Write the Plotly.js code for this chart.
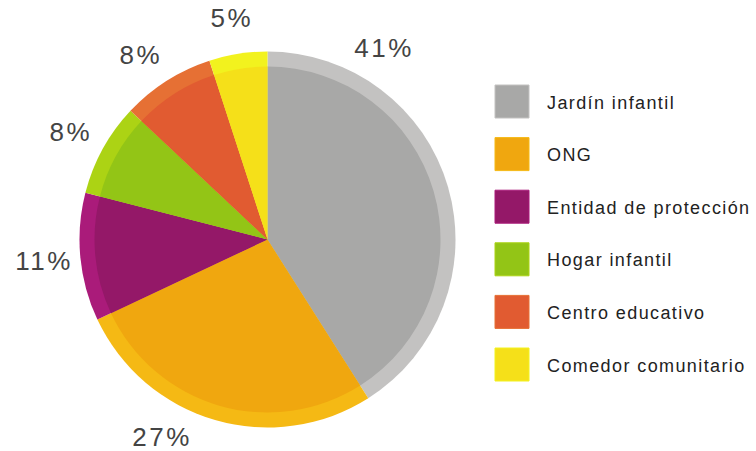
<!DOCTYPE html>
<html>
<head>
<meta charset="utf-8">
<script src="https://cdn.plot.ly/plotly-3.0.1.min.js"></script>
<style>
html,body{margin:0;padding:0;background:#fff;}
#chart{width:756px;height:451px;}
#chart text.annotation-text[style*="26px"]{letter-spacing:2.5px;}
#chart text.annotation-text[style*="18px"]{letter-spacing:1.4px;}
</style>
</head>
<body>
<div id="chart"></div>
<script>
// ---- data ----
const categories = ["Jardín infantil", "ONG", "Entidad de protección", "Hogar infantil", "Centro educativo", "Comedor comunitario"];
const values = [41, 27, 11, 8, 8, 5];
const percentLabels = ["41%", "27%", "11%", "8%", "8%", "5%"];
const innerColors = ["#a8a8a7", "#f0a70f", "#941868", "#93c516", "#e15b31", "#f5e019"];
const outerColors = ["#c3c2c1", "#f5b914", "#aa1b7a", "#acd314", "#e67034", "#f2f21e"];
// label angle adjustments (degrees) for placement around the pie
const labelAngleShift = [-42.4, 12, 0, 0, -2, 0];

// ---- layout geometry (px) ----
const W = 756, H = 451;
const cx = 267.5, cy = 239.5;
const rOuter = 188, rInner = 173, rLabel = 224;
const px2x = p => p / W;
const py2y = p => 1 - p / H;
function dom(r){
  return {x:[px2x(cx - r), px2x(cx + r)], y:[py2y(cy + r), py2y(cy - r)]};
}

const traces = [
  {type:"pie", labels:categories, values:values, sort:false, direction:"clockwise", rotation:0,
   marker:{colors:outerColors, line:{width:0}}, textinfo:"none", hoverinfo:"label+percent",
   domain:dom(rOuter), showlegend:false},
  {type:"pie", labels:categories, values:values, sort:false, direction:"clockwise", rotation:0,
   marker:{colors:innerColors, line:{width:0}}, textinfo:"none", hoverinfo:"label+percent",
   domain:dom(rInner), showlegend:false}
];

const total = values.reduce((a,b)=>a+b,0);
const annotations = [];
let cum = 0;
values.forEach((v,i)=>{
  const mid = (cum + v/2) / total * 360 + labelAngleShift[i];
  cum += v;
  const t = mid * Math.PI / 180;
  const x = cx + rLabel * Math.sin(t);
  const y = cy - rLabel * Math.cos(t);
  annotations.push({xref:"paper", yref:"paper", x:px2x(x), y:py2y(y), text:percentLabels[i],
    showarrow:false, xanchor:"center", yanchor:"middle",
    font:{family:"Liberation Sans, Arial, sans-serif", size:26, color:"#444"}});
});

// custom legend built from the category arrays
const shapes = [];
const legX0 = 495, legW = 34, legH = 33, legTop = 101.5, legStep = 52.6, legTextX = 545;
categories.forEach((c,i)=>{
  const yc = legTop + i*legStep;
  shapes.push({type:"rect", xref:"paper", yref:"paper",
    x0:px2x(legX0), x1:px2x(legX0+legW), y0:py2y(yc+legH/2), y1:py2y(yc-legH/2),
    fillcolor:innerColors[i], line:{width:1, color:outerColors[i]}});
  annotations.push({xref:"paper", yref:"paper", x:px2x(legTextX), y:py2y(yc+1), text:c,
    showarrow:false, xanchor:"left", yanchor:"middle", align:"left",
    font:{family:"Liberation Sans, Arial, sans-serif", size:18, color:"#222"}});
});

const layout = {
  width:W, height:H, margin:{l:0,r:0,t:0,b:0},
  paper_bgcolor:"#fff", plot_bgcolor:"#fff",
  showlegend:false, annotations:annotations, shapes:shapes
};

Plotly.newPlot("chart", traces, layout, {displayModeBar:false, staticPlot:true});
</script>
</body>
</html>
